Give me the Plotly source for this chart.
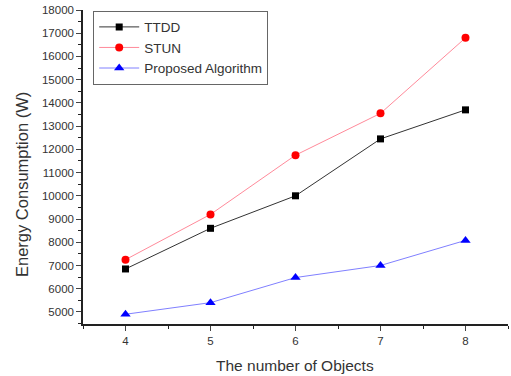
import plotly.graph_objects as go

objects = [4, 5, 6, 7, 8]
ttdd = [6850, 8600, 10000, 12450, 13700]
stun = [7250, 9200, 11750, 13550, 16800]
proposed = [4900, 5400, 6480, 7000, 8080]
y_ticks = list(range(5000, 18001, 1000))
y_labels = [str(v) for v in y_ticks]

fig = go.Figure()
fig.add_trace(go.Scatter(x=objects, y=ttdd, name="TTDD", mode="lines+markers",
                         line=dict(color="#333333", width=1),
                         marker=dict(symbol="square", size=7, color="black")))
fig.add_trace(go.Scatter(x=objects, y=stun, name="STUN", mode="lines+markers",
                         line=dict(color="#ff8a9a", width=1),
                         marker=dict(symbol="circle", size=8, color="#ff0000")))
fig.add_trace(go.Scatter(x=objects, y=proposed, name="Proposed Algorithm", mode="lines+markers",
                         line=dict(color="#8080ff", width=1),
                         marker=dict(symbol="triangle-up", size=9, color="#0000ff")))

fig.update_layout(
    width=511, height=376,
    margin=dict(l=83, r=3, t=10, b=52),
    paper_bgcolor="white", plot_bgcolor="white",
    font=dict(family="Liberation Sans, Arial, sans-serif", color="#333333"),
    showlegend=True,
    legend=dict(x=0.024, y=0.998, xanchor="left", yanchor="top",
                bordercolor="#666666", borderwidth=1, bgcolor="white",
                font=dict(size=13.5), tracegroupgap=0, itemwidth=40),
    xaxis=dict(range=[3.5, 8.5], tickvals=objects, ticks="outside", ticklen=5,
               showline=True, linecolor="#222222", linewidth=1.5, showgrid=False,
               zeroline=False, tickfont=dict(size=11.5), automargin=False,
               minor=dict(dtick=0.5, tick0=3.5, ticks="outside", ticklen=3, tickcolor="#222222")),
    yaxis=dict(range=[4480, 18000], tickvals=y_ticks, ticktext=y_labels, ticks="outside", ticklen=5,
               showline=True, linecolor="#222222", linewidth=1.5, showgrid=False,
               zeroline=False, tickfont=dict(size=11.5), automargin=False,
               minor=dict(dtick=500, tick0=0, ticks="outside", ticklen=3, tickcolor="#222222")),
    annotations=[
        dict(text="The number of Objects", xref="paper", yref="paper",
             x=(295 - 83) / 425, y=-(365 - 324) / 314, xanchor="center", yanchor="middle",
             showarrow=False, font=dict(size=15.5, color="#333333")),
        dict(text="Energy Consumption (W)", xref="paper", yref="paper",
             x=-(83 - 22) / 425, y=(324 - 185) / 314, xanchor="center", yanchor="middle",
             textangle=-90, showarrow=False, font=dict(size=16.5, color="#333333")),
    ],
)

fig.write_html("out.html", config={"displayModeBar": False},
               post_script="document.body.style.margin='0';document.body.style.overflow='hidden';")
